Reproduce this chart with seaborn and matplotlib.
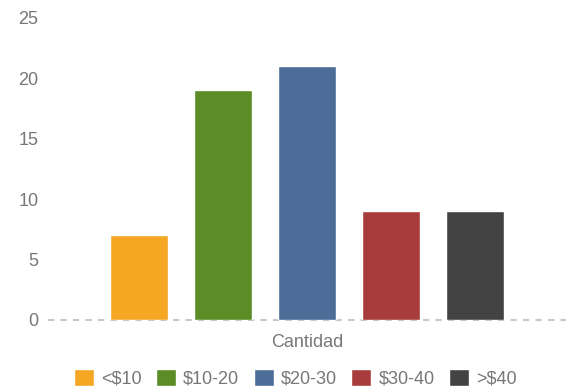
import matplotlib
matplotlib.use("Agg")
import matplotlib.pyplot as plt
import seaborn as sns
import pandas as pd

category = ["Cantidad"]
series = ["<$10", "$10-20", "$20-30", "$30-40", ">$40"]
values = [7, 19, 21, 9, 9]
colors = ["#F5A623", "#5B8C26", "#4B6D97", "#A83C3C", "#434343"]
yticks = [0, 5, 10, 15, 20, 25]

df = pd.DataFrame({"cat": category * len(series), "serie": series, "valor": values})

sns.set_theme(style="white")
plt.rcParams["font.family"] = ["Liberation Sans", "DejaVu Sans"]

fig = plt.figure(figsize=(5.68, 3.92), dpi=100)
ax = fig.add_axes([48 / 568, 72 / 392, 518 / 568, 302 / 392])

sns.barplot(data=df, x="cat", y="valor", hue="serie", hue_order=series,
            palette=colors, width=0.81, gap=0.31, saturation=1, ax=ax,
            legend=True)

ax.set_ylim(0, 25)
ax.set_xlim(-0.5, 0.5)
ax.set_yticks(yticks)
ax.set_yticklabels([str(t) for t in yticks])
ax.tick_params(axis="y", length=0, pad=7, labelsize=13, labelcolor="#777777")
ax.tick_params(axis="x", length=0, pad=10, labelsize=13, labelcolor="#777777")
ax.set_xlabel("")
ax.set_ylabel("")
for s in ax.spines.values():
    s.set_visible(False)
ax.axhline(0, color="#c8c8c8", lw=1.5, ls=(0, (3, 3)), clip_on=False, zorder=0)

handles, labels = ax.get_legend_handles_labels()
ax.get_legend().remove()
fig.legend(handles, labels, loc="center", bbox_to_anchor=(0.52, 14 / 392),
           ncol=5, frameon=False, fontsize=13, handlelength=1.1, handleheight=1.1,
           handletextpad=0.4, columnspacing=0.8, labelcolor="#777777")

fig.savefig("out.png", dpi=100)
